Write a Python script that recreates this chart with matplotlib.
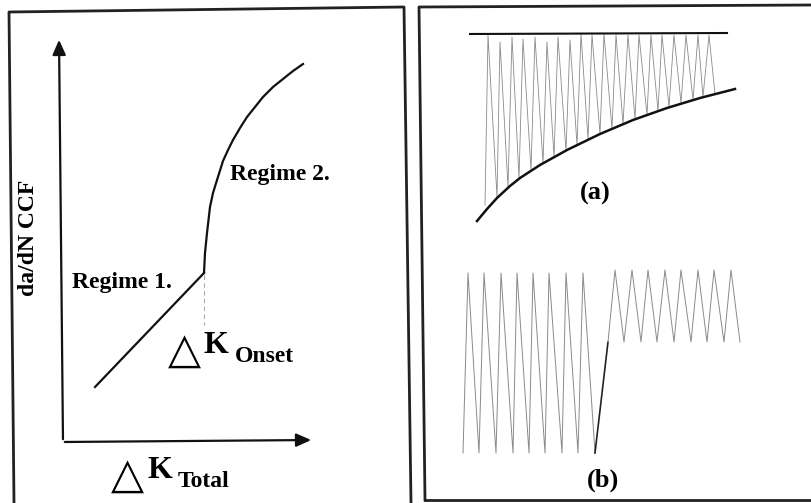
import matplotlib.pyplot as plt

# left panel: crack growth curve (pixel coords of the drawing)
reg1_x = [95, 204]
reg1_y = [387, 273]
reg2_x = [204, 204.5, 205, 206, 207, 208.5, 210, 213, 217, 223, 228, 233, 240,
          247, 255, 263, 273, 283, 293, 303]
reg2_y = [273, 263, 253, 243, 233, 220, 207, 193, 180, 161, 150, 140, 128,
          117, 107, 97, 87, 79, 71, 64]
onset_x = [204, 204]
onset_y = [275, 325]

# panel (a): constant max load, rising min load envelope
a_top_x = [470, 727]
a_top_y = [34, 33]
a_env_x = [477, 487, 497, 510, 520, 540, 567, 600, 633, 667, 700, 735]
a_env_y = [221, 209, 198, 186, 178, 165, 150, 134, 120, 108, 98, 89]
a_zig_x = [485, 488, 497, 500, 508, 512, 519, 523, 531, 535, 543, 547, 554, 558,
           566, 570, 577, 581, 588, 592, 600, 604, 612, 616, 623, 628, 635, 639,
           647, 651, 658, 662, 669, 674, 681, 686, 693, 698, 703, 709, 715]
a_zig_y = [205, 35, 197, 42, 187, 37, 178, 39, 170, 37, 163, 42, 157, 37,
           151, 40, 145, 34, 139, 35, 134, 34, 129, 35, 124, 35, 119, 35,
           115, 35, 111, 35, 107, 35, 103, 35, 100, 35, 97, 35, 94]

# panel (b): full range cycles then raised mean cycles
b1_x = [463, 468, 479, 484, 496, 501, 513, 517, 529, 533, 545, 549, 562, 566, 578, 583, 595]
b1_y = [453, 273, 453, 273, 453, 273, 453, 273, 453, 273, 453, 273, 453, 273, 453, 273, 453]
b_jump_x = [595, 608]
b_jump_y = [453, 342]
b2_x = [608, 615, 624, 632, 641, 648, 657, 665, 674, 681, 691, 698, 707, 714, 724, 731, 740]
b2_y = [342, 270, 342, 270, 342, 270, 342, 270, 342, 270, 342, 270, 342, 270, 342, 270, 342]

serif = 'Liberation Serif'
symbol = ['DejaVu Sans', 'Noto Sans CJK SC']

fig = plt.figure(figsize=(8.11, 5.03), dpi=100)
ax = fig.add_axes([0, 0, 1, 1])
ax.set_xlim(0, 811)
ax.set_ylim(503, 0)
ax.axis('off')

# panel frames
frame = dict(color='#222222', lw=2.0)
ax.plot([14, 9, 404, 411], [503, 12, 7, 503], **frame)
ax.plot([425, 419, 811], [500, 7, 5], **frame)
ax.plot([425, 811], [500, 500], **frame)

# left panel axes
arrow = dict(arrowstyle='-|>,head_length=0.9,head_width=0.4', color='#111111', lw=1.6)
ax.annotate('', xy=(59, 37), xytext=(63, 442), arrowprops=arrow)
ax.annotate('', xy=(314, 440), xytext=(62, 442), arrowprops=arrow)

ax.plot(reg1_x, reg1_y, color='#111111', lw=1.6)
ax.plot(reg2_x, reg2_y, color='#111111', lw=1.6)
ax.plot(onset_x, onset_y, color='#aaaaaa', lw=0.8, ls=(0, (4, 3)))

ax.text(28, 238, 'da/dN CCF', rotation=90, ha='center', va='center',
        family=serif, fontweight='bold', fontsize=17)
ax.text(72, 288, 'Regime 1.', ha='left', va='baseline',
        family=serif, fontweight='bold', fontsize=17)
ax.text(230, 180, 'Regime 2.', ha='left', va='baseline',
        family=serif, fontweight='bold', fontsize=17)

# delta K labels
for tx, kx, sx, kb, sb, sub in [(168, 203, 235, 353, 363, 'Onset'),
                                 (111, 147, 178, 478, 488, 'Total')]:
    ax.text(tx, sb, '\u25b3', ha='left', va='baseline', family=symbol,
            fontsize=31)
    ax.text(kx, kb, 'K', ha='left', va='baseline', family=serif,
            fontweight='bold', fontsize=23)
    ax.text(sx, sb - 1, sub, ha='left', va='baseline', family=serif,
            fontweight='bold', fontsize=17)

# panel (a)
ax.plot(a_zig_x, a_zig_y, color='#8a8a8a', lw=0.6)
ax.plot(a_top_x, a_top_y, color='#111111', lw=1.5)
ax.plot(a_env_x, a_env_y, color='#111111', lw=1.8)
ax.text(595, 193, '(a)', ha='center', va='center', family=serif,
        fontweight='bold', fontsize=19)

# panel (b)
ax.plot(b1_x, b1_y, color='#8a8a8a', lw=0.7)
ax.plot(b_jump_x, b_jump_y, color='#222222', lw=1.2)
ax.plot(b2_x, b2_y, color='#8a8a8a', lw=0.7)
ax.text(603, 480, '(b)', ha='center', va='center', family=serif,
        fontweight='bold', fontsize=19)

fig.savefig('out.png', dpi=100)
